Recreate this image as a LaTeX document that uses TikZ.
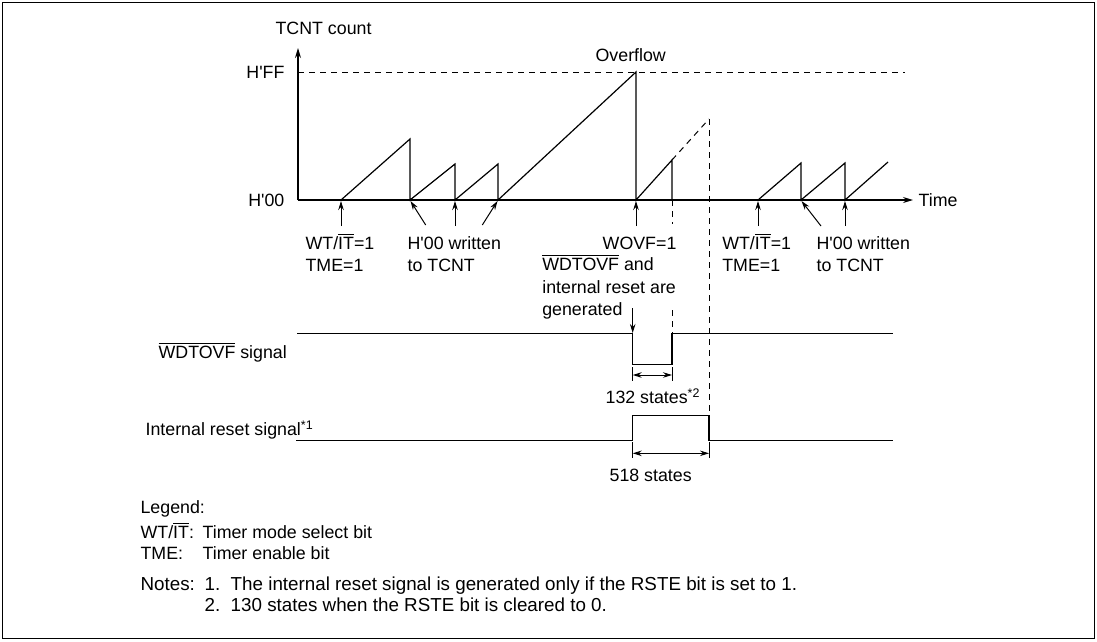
\documentclass[tikz,border=0pt]{standalone}
\usepackage{fontspec}
\setmainfont{Liberation Sans}
\usetikzlibrary{arrows.meta}
\newcommand\ovl[1]{\setbox0\hbox{#1}\rlap{\rule[14.6pt]{\wd0}{0.9pt}}\box0\relax}
\newcommand\q{\textquotesingle}
\begin{document}
\begin{tikzpicture}[x=1pt,y=-1pt,line width=1.2pt,font=\fontsize{17.8}{22}\selectfont]
\tikzset{
 lbl/.style={anchor=base west,inner sep=0pt},
 lblr/.style={anchor=base east,inner sep=0pt},
 ar/.style={-{Stealth[length=9pt,width=5.5pt]},line width=1pt},
 dim/.style={{Stealth[length=9pt,width=5.5pt]}-{Stealth[length=9pt,width=5.5pt]},line width=1pt},
 dsh/.style={dash pattern=on 6pt off 5pt,line width=1pt},
 tick/.style={line width=0.8pt},
 sig/.style={line width=1.2pt},
 notefont/.style={font=\fontsize{18.8}{22}\selectfont}
}
\useasboundingbox (0,0) rectangle (1097,641);
\draw[line width=1.6pt] (2.5,2.5) rectangle (1094.5,638.5);

% axes
\coordinate (o) at (298,200);
\coordinate (ytip) at (298,48);
\coordinate (xtip) at (913,200);
\draw[-{Stealth[length=10pt,width=6pt]},line width=1.2pt] (o) -- (ytip);
\draw[-{Stealth[length=10pt,width=6pt]},line width=1.2pt] (o) -- (xtip);
\draw[dsh] (298,72) -- (905,72);

% sawtooth
\draw[sig] (341,200) -- (410,139) -- (410,200) -- (455,164) -- (455,200) -- (498,164) -- (498,200) -- (636,72) -- (636,200) -- (672,160) -- (672,200);
\draw[dsh] (672,160) -- (709,119);
\draw[dsh] (709,119) -- (709,415.7);
\draw[dsh] (672,200) -- (672,224);
\draw[dsh] (672,310) -- (672,333.3);
\draw[sig] (758,200) -- (801,163) -- (801,200) -- (845,163) -- (845,200) -- (888,162);

% event arrows
\draw[ar] (341,226) -- (341,201);
\draw[ar] (425.7,225) -- (410.5,201);
\draw[ar] (455,226) -- (455,201);
\draw[ar] (482.3,225) -- (497.5,201);
\draw[ar] (636,226) -- (636,201);
\draw[ar] (758,226) -- (758,201);
\draw[ar] (821,226) -- (801.5,201);
\draw[ar] (845,226) -- (845,201);
\draw[ar] (632.7,308) -- (632.7,333);

% signals
\draw[sig] (297,333.3) -- (632.7,333.3) -- (632.7,364.3) -- (672,364.3) -- (672,333.3) -- (893,333.3);
\draw[sig] (296,440.5) -- (632.7,440.5) -- (632.7,415.7) -- (709,415.7) -- (709,440.5) -- (893,440.5);

% dimensions
\draw[tick] (632.7,367) -- (632.7,381);
\draw[tick] (672,367) -- (672,381);
\draw[dim] (632.7,375) -- (672,375);
\draw[tick] (632.7,442) -- (632.7,458);
\draw[tick] (709,442) -- (709,458);
\draw[dim] (632.7,453.3) -- (709,453.3);

% labels
\node[lbl] (tcnt) at (275,34) {TCNT count};
\node[lblr] (hff) at (285,78.5) {H\q FF};
\node[lblr] (h00) at (285,206.5) {H\q 00};
\node[lbl] (ovf) at (595,61.5) {Overflow};
\node[lbl] (time) at (918,206.5) {Time};
\node[lbl] (wt1) at (305,249.5) {WT/\ovl{IT}=1};
\node[lbl] (tme1) at (305,271.5) {TME=1};
\node[lbl] (hw1) at (407,249.5) {H\q 00 written};
\node[lbl] (tt1) at (407,271.5) {to TCNT};
\node[lblr] (wovf) at (677,249) {WOVF=1};
\node[lbl] (gen1) at (541.7,270.5) {\ovl{WDTOVF} and};
\node[lbl] (gen2) at (541.7,293.5) {internal reset are};
\node[lbl] (gen3) at (541.7,315.5) {generated};
\node[lbl] (wt2) at (721.7,249.5) {WT/\ovl{IT}=1};
\node[lbl] (tme2) at (721.7,271.5) {TME=1};
\node[lbl] (hw2) at (816,249.5) {H\q 00 written};
\node[lbl] (tt2) at (816,271.5) {to TCNT};
\node[lbl] (wsig) at (158,358.5) {\ovl{WDTOVF} signal};
\node[lbl] (isig) at (145,435.5) {Internal reset signal\textsuperscript{*1}};
\node[lbl] (s132) at (605,403.5) {132 states\textsuperscript{*2}};
\node[lbl] (s518) at (609,481.5) {518 states};
\node[lbl] (leg) at (140,513) {Legend:};
\node[lbl] (lwt) at (140,538) {WT/\ovl{IT}:};
\node[lbl] (lwtd) at (202,538) {Timer mode select bit};
\node[lbl] (ltme) at (140,559) {TME:};
\node[lbl] (ltmed) at (202,559) {Timer enable bit};
\node[lbl,notefont] (notes) at (140,590) {Notes:};
\node[lbl,notefont] (n1) at (204,590) {1.\ \ The internal reset signal is generated only if the RSTE bit is set to 1.};
\node[lbl,notefont] (n2) at (204,611) {2.\ \ 130 states when the RSTE bit is cleared to 0.};
\end{tikzpicture}
\end{document}
